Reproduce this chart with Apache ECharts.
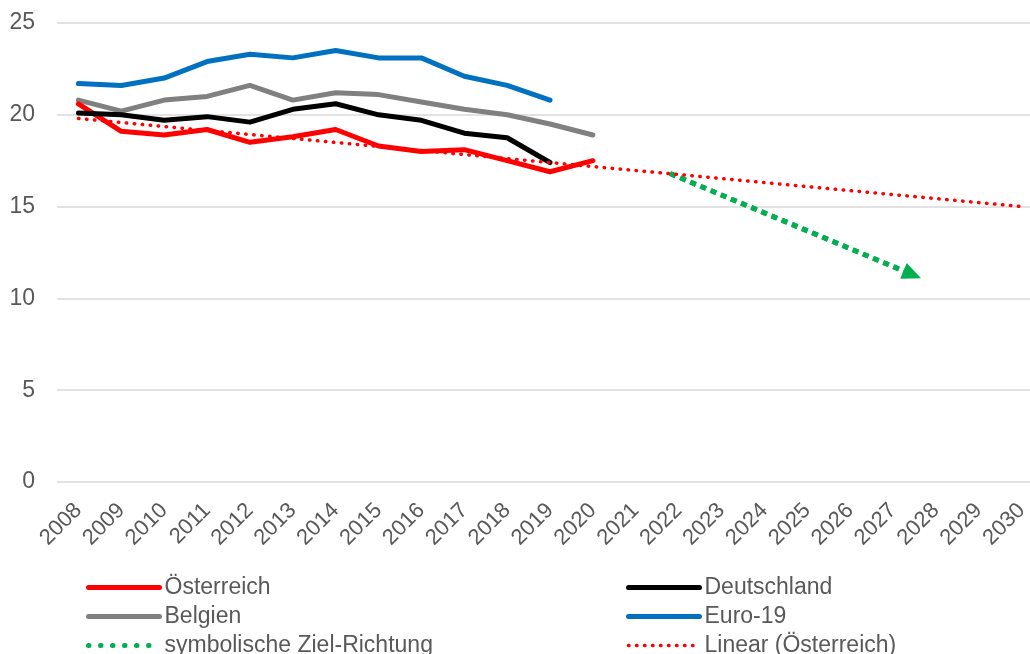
<!DOCTYPE html>
<html>
<head>
<meta charset="utf-8">
<script src="https://cdn.jsdelivr.net/npm/echarts@6/dist/echarts.min.js"></script>
<style>
  html, body { margin: 0; padding: 0; background: #fff; }
  #chart { width: 1030px; height: 654px; }
</style>
</head>
<body>
<div id="chart"></div>
<script>
// Jahre auf der x-Achse
const years = ['2008', '2009', '2010', '2011', '2012', '2013', '2014', '2015', '2016', '2017', '2018', '2019',
  '2020', '2021', '2022', '2023', '2024', '2025', '2026', '2027', '2028', '2029', '2030'];

// Werte je Land
const oesterreich = [20.6, 19.1, 18.9, 19.2, 18.5, 18.8, 19.2, 18.3, 18.0, 18.1, 17.5, 16.9, 17.5];
const deutschland = [20.1, 20.0, 19.7, 19.9, 19.6, 20.3, 20.6, 20.0, 19.7, 19.0, 18.75, 17.4];
const belgien = [20.8, 20.2, 20.8, 21.0, 21.6, 20.8, 21.2, 21.1, 20.7, 20.3, 20.0, 19.5, 18.9];
const euro19 = [21.7, 21.6, 22.0, 22.9, 23.3, 23.1, 23.5, 23.1, 23.1, 22.1, 21.6, 20.8];

// lineare Trendlinie (Österreich): Anfangs- und Endpunkt
const trendYears = ['2008', '2030'];
const trendValues = [19.8, 15.0];

// symbolische Ziel-Richtung (Pfeil)
const goalX = [2021.8, 2027.45];
const goalY = [16.8, 11.3];

const yTicks = [0, 5, 10, 15, 20, 25];

const textColor = '#595959';
const font = 'Liberation Sans';

// Trend-Daten auf die Kategorien legen (nur Endpunkte, Rest null)
const trendData = years.map(y => {
  const i = trendYears.indexOf(y);
  return i >= 0 ? trendValues[i] : null;
});
const goalData = goalX.map((x, i) => [x, goalY[i]]);

const chart = echarts.init(document.getElementById('chart'), null, { renderer: 'canvas' });

const solid = (color) => ({ width: 5, color: color, cap: 'round', join: 'round' });

const legendBase = {
  orient: 'vertical',
  top: 576,
  height: 90,
  padding: 0,
  itemWidth: 71,
  itemHeight: 14,
  itemGap: 6,
  itemStyle: { opacity: 0 },
  lineStyle: { width: 'inherit' },
  textStyle: { color: textColor, fontSize: 23, fontFamily: font }
};

chart.setOption({
  animation: false,
  textStyle: { fontFamily: font },
  grid: { left: 57, top: 23, width: 986, height: 459, outerBoundsMode: 'none' },
  legend: [
    Object.assign({}, legendBase, {
      left: 86,
      data: [
        'Österreich',
        'Belgien',
        {
          name: 'symbolische Ziel-Richtung',
          lineStyle: { width: 5, type: [0.5, 11.5], cap: 'round' }
        }
      ]
    }),
    Object.assign({}, legendBase, {
      left: 626,
      data: ['Deutschland', 'Euro-19', 'Linear (Österreich)']
    })
  ],
  xAxis: [
    {
      type: 'category',
      data: years,
      boundaryGap: true,
      axisLine: { show: false },
      axisTick: { show: false },
      axisLabel: {
        rotate: 45,
        interval: 0,
        margin: 25,
        color: textColor,
        fontSize: 22,
        fontFamily: font
      },
      splitLine: { show: false }
    },
    {
      // unsichtbare Zahlenachse für den Pfeil
      type: 'value',
      min: 2007.5,
      max: 2030.5,
      show: false,
      splitLine: { show: false }
    }
  ],
  yAxis: {
    type: 'value',
    min: 0,
    max: 25,
    interval: 5,
    axisLine: { show: false },
    axisTick: { show: false },
    axisLabel: {
      margin: 22,
      color: textColor,
      fontSize: 23,
      fontFamily: font,
      formatter: v => (yTicks.indexOf(v) >= 0 ? String(v) : '')
    },
    splitLine: { lineStyle: { color: '#d9d9d9', width: 1.5 } }
  },
  series: [
    {
      name: 'Belgien',
      type: 'line',
      data: belgien,
      symbol: 'none',
      color: '#808080',
      lineStyle: solid('#808080'),
      z: 2
    },
    {
      name: 'Euro-19',
      type: 'line',
      data: euro19,
      symbol: 'none',
      color: '#0070C0',
      lineStyle: solid('#0070C0'),
      z: 2
    },
    {
      name: 'Österreich',
      type: 'line',
      data: oesterreich,
      symbol: 'none',
      color: '#FF0000',
      lineStyle: solid('#FF0000'),
      z: 3
    },
    {
      name: 'Deutschland',
      type: 'line',
      data: deutschland,
      symbol: 'none',
      color: '#000000',
      lineStyle: solid('#000000'),
      z: 3
    },
    {
      name: 'symbolische Ziel-Richtung',
      type: 'line',
      xAxisIndex: 1,
      data: goalData,
      symbol: 'none',
      color: '#00B050',
      lineStyle: { width: 5, color: '#00B050', type: [6, 5], cap: 'butt' },
      markLine: {
        silent: true,
        symbol: ['none', 'triangle'],
        symbolSize: [17, 19],
        label: { show: false },
        lineStyle: { width: 5, color: '#00B050', type: [6, 5], cap: 'butt' },
        data: [[
          { coord: goalData[0] },
          { coord: goalData[1] }
        ]]
      },
      z: 4
    },
    {
      name: 'Linear (Österreich)',
      type: 'line',
      data: trendData,
      connectNulls: true,
      symbol: 'none',
      color: '#FF0000',
      lineStyle: { width: 3.5, color: '#FF0000', type: [0.5, 7.5], cap: 'round' },
      z: 5
    }
  ]
});
</script>
</body>
</html>
